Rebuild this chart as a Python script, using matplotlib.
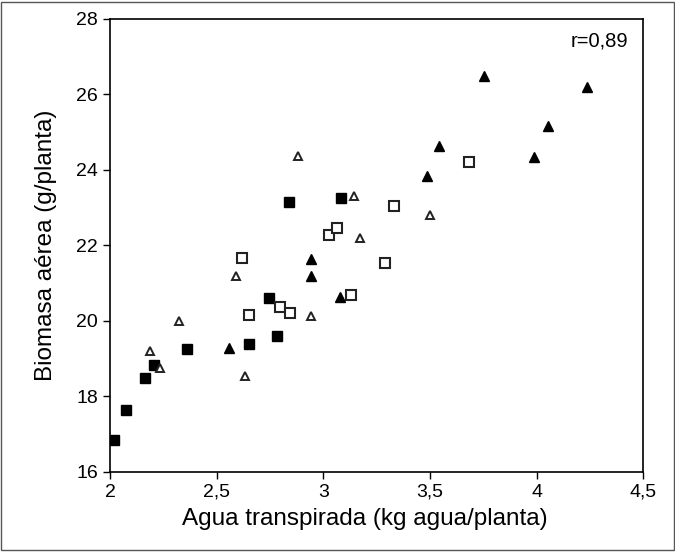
import matplotlib
matplotlib.use("Agg")
import matplotlib.pyplot as plt
from matplotlib.patches import Rectangle

# data (x: kg agua/planta, y: g/planta)
sq_filled_x = [2.018, 2.075, 2.165, 2.208, 2.359, 2.653, 2.784, 2.746, 2.841, 3.083]
sq_filled_y = [16.84, 17.64, 18.49, 18.83, 19.26, 19.40, 19.59, 20.61, 23.15, 23.25]

sq_open_x = [2.621, 2.653, 2.798, 2.845, 3.028, 3.063, 3.129, 3.288, 3.333, 3.681]
sq_open_y = [21.67, 20.16, 20.37, 20.20, 22.28, 22.47, 20.68, 21.53, 23.03, 24.21]

tri_filled_x = [2.556, 2.944, 2.944, 3.079, 3.484, 3.544, 3.754, 3.988, 4.052, 4.238]
tri_filled_y = [19.29, 21.63, 21.20, 20.64, 23.83, 24.64, 26.49, 24.33, 25.16, 26.19]

tri_open_x = [2.188, 2.236, 2.325, 2.589, 2.631, 2.883, 2.944, 3.145, 3.173, 3.500]
tri_open_y = [19.20, 18.74, 20.01, 21.18, 18.53, 24.36, 20.14, 23.31, 22.19, 22.81]

x_ticks = [2, 2.5, 3, 3.5, 4, 4.5]
y_ticks = [16, 18, 20, 22, 24, 26, 28]

plt.rcParams['font.family'] = ['Liberation Sans', 'DejaVu Sans']

fig = plt.figure(figsize=(6.75, 5.52), dpi=100)
ax = fig.add_axes([0.163, 0.145, 0.790, 0.821])

ax.plot(sq_filled_x, sq_filled_y, 's', ms=7.5, mfc='black', mec='black', mew=1)
ax.plot(sq_open_x, sq_open_y, 's', ms=6.5, mfc='white', mec='#222222', mew=1.5)
ax.plot(tri_filled_x, tri_filled_y, '^', ms=6.5, mfc='black', mec='black', mew=1)
ax.plot(tri_open_x, tri_open_y, '^', ms=5.5, mfc='white', mec='#222222', mew=1.4)

ax.set_xlim(2, 4.5)
ax.set_ylim(16, 28)
ax.set_xticks(x_ticks)
ax.set_xticklabels([f"{t:g}".replace(".", ",") for t in x_ticks])
ax.set_yticks(y_ticks)
ax.set_yticklabels([str(t) for t in y_ticks])
ax.tick_params(direction='out', length=5, width=1, labelsize=14, colors='black')
for sp in ax.spines.values():
    sp.set_linewidth(1.2)

ax.set_xlabel("Agua transpirada (kg agua/planta)", fontsize=17.5)
ax.xaxis.set_label_coords(0.477, -0.079, transform=ax.transAxes)
ax.xaxis.label.set_va('top')
ax.set_ylabel("Biomasa aérea (g/planta)", fontsize=17.5, labelpad=14)

ax.text(0.918, 0.95, "r=0,89", transform=ax.transAxes, ha='center', va='center', fontsize=14.5)

# thin frame around the whole picture
fig.patches.append(Rectangle((0.002, 0.004), 0.996, 0.992, transform=fig.transFigure,
                             fill=False, edgecolor='#555555', linewidth=1.0))

fig.savefig("out.png", dpi=100)
